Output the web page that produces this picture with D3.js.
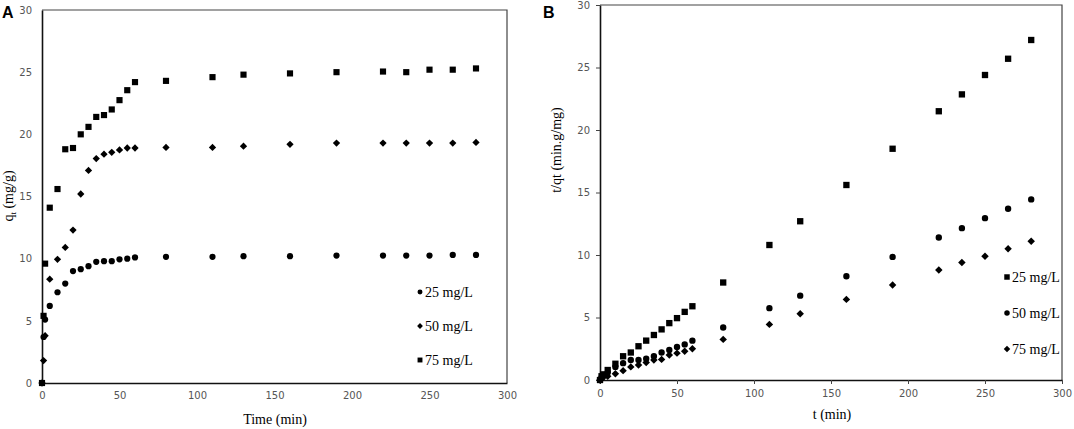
<!DOCTYPE html>
<html>
<head>
<meta charset="utf-8">
<script src="https://cdn.jsdelivr.net/npm/d3@7"></script>
<style>
  body { margin: 0; background: #fff; }
  .tick text { font-family: "DejaVu Sans", sans-serif; font-size: 10px; fill: #555; }
  .title { font-family: "Liberation Serif", serif; font-size: 14px; fill: #000; }
  .legend { font-family: "Liberation Serif", serif; font-size: 14px; fill: #000; }
  .panel { font-family: "Liberation Sans", Arial, sans-serif; font-size: 16px; font-weight: bold; }
</style>
</head>
<body>
<script>
var width = 1074, height = 429;

// sampling times (min)
var times = [0, 1, 2, 5, 10, 15, 20, 25, 30, 35, 40, 45, 50, 55, 60, 80, 110, 130, 160, 190, 220, 235, 250, 265, 280];

// panel A: qt (mg/g)
var qt25 = [0, 3.7, 5.1, 6.2, 7.3, 8.0, 9.0, 9.15, 9.4, 9.75, 9.8, 9.8, 9.95, 10.0, 10.1, 10.15, 10.15, 10.2, 10.2, 10.25, 10.25, 10.25, 10.25, 10.3, 10.3];
var qt50 = [0, 1.8, 3.8, 8.35, 9.95, 10.9, 12.3, 15.2, 17.1, 18.05, 18.4, 18.55, 18.75, 18.9, 18.9, 18.95, 18.95, 19.05, 19.2, 19.3, 19.3, 19.3, 19.3, 19.3, 19.35];
var qt75 = [0, 5.4, 9.6, 14.1, 15.6, 18.8, 18.9, 20.0, 20.6, 21.4, 21.55, 22.0, 22.75, 23.55, 24.2, 24.3, 24.6, 24.8, 24.9, 25.0, 25.05, 25.0, 25.2, 25.2, 25.3];

// panel B: t/qt (min.g/mg)
var tq25 = [0, 0.3, 0.45, 0.8, 1.3, 1.9, 2.2, 2.7, 3.15, 3.6, 4.05, 4.55, 4.95, 5.45, 5.9, 7.8, 10.8, 12.7, 15.6, 18.5, 21.5, 22.85, 24.4, 25.7, 27.2];
var tq50 = [0, 0.2, 0.4, 0.6, 1.05, 1.35, 1.6, 1.6, 1.7, 1.9, 2.2, 2.4, 2.65, 2.85, 3.15, 4.2, 5.75, 6.75, 8.3, 9.85, 11.4, 12.15, 12.95, 13.7, 14.45];
var tq75 = [0, 0.1, 0.2, 0.3, 0.5, 0.75, 1.05, 1.2, 1.4, 1.6, 1.65, 2.0, 2.15, 2.3, 2.5, 3.25, 4.45, 5.3, 6.45, 7.6, 8.8, 9.4, 9.9, 10.5, 11.1];

var xTicks = [0, 50, 100, 150, 200, 250, 300];
var yTicks = [0, 5, 10, 15, 20, 25, 30];

var svg = d3.select("body").append("svg")
    .attr("width", width).attr("height", height);

var shapes = {
  circle: d3.symbol().type(d3.symbolCircle),
  square: d3.symbol().type(d3.symbolSquare),
  diamond: d3.symbol().type(d3.symbolSquare)
};

function marker(sel, kind, size) {
  sel.attr("d", shapes[kind].size(kind == "circle" ? size * 0.8 : (kind == "diamond" ? size * 0.7 : size))())
    .attr("fill", "#000");
  if (kind == "diamond") sel.attr("transform", function() { return d3.select(this).attr("transform") + " rotate(45)"; });
}

function drawPanel(p) {
  var x = d3.scaleLinear().domain([0, 300]).range([p.left, p.right]);
  var y = d3.scaleLinear().domain([0, 30]).range([p.bottom, p.top]);
  var g = svg.append("g");

  // frame (top and right)
  g.append("path")
    .attr("d", "M" + p.left + "," + p.top + "H" + p.right + "V" + p.bottom)
    .attr("fill", "none").attr("stroke", "#444").attr("stroke-width", 1.2);

  var ax = g.append("g").attr("transform", "translate(0," + p.bottom + ")")
    .call(d3.axisBottom(x).tickValues(xTicks).tickSize(p.tick).tickSizeOuter(0).tickPadding(p.tick ? 6 : 9));
  var ay = g.append("g").attr("transform", "translate(" + p.left + ",0)")
    .call(d3.axisLeft(y).tickValues(yTicks).tickSize(p.tick).tickSizeOuter(0).tickPadding(p.tick ? 6 : 10));
  [ax, ay].forEach(function(a) {
    a.select(".domain").attr("stroke", "#111").attr("stroke-width", 1.6);
    a.selectAll(".tick line").attr("stroke", "#444");
  });

  p.series.forEach(function(s) {
    g.append("g").selectAll("path").data(times).enter().append("path")
      .attr("transform", function(t, i) { return "translate(" + x(t) + "," + y(s.values[i]) + ")"; })
      .each(function() { marker(d3.select(this), s.kind, p.size); });
  });

  // legend
  var lg = g.append("g").selectAll("g").data(p.series).enter().append("g")
    .attr("transform", function(d, i) { return "translate(" + p.legX + "," + (p.legY + i * p.legGap) + ")"; });
  lg.append("path").attr("transform", "translate(0,0)")
    .each(function(d) { marker(d3.select(this), d.kind, p.legSize); });
  lg.append("text").attr("class", "legend").attr("x", 5).attr("y", 5).text(function(d) { return d.label; });

  g.append("text").attr("class", "title").attr("text-anchor", "middle")
    .attr("x", p.xTitle[0]).attr("y", p.xTitle[1]).text(p.xLabel);

  var yt = g.append("text").attr("class", "title").attr("text-anchor", "middle")
    .attr("font-size", "13px")
    .attr("transform", "translate(" + p.yTitle[0] + "," + p.yTitle[1] + ") rotate(-90)");
  p.yLabel(yt);

  g.append("text").attr("class", "panel").attr("x", p.tag[0]).attr("y", p.tag[1]).text(p.name);
}

drawPanel({
  name: "A", tag: [2, 18],
  left: 42, right: 507, top: 10, bottom: 383, tick: 0, size: 38,
  series: [
    { label: "25 mg/L", kind: "circle", values: qt25 },
    { label: "50 mg/L", kind: "diamond", values: qt50 },
    { label: "75 mg/L", kind: "square", values: qt75 }
  ],
  legX: 420, legY: 292, legGap: 34, legSize: 24,
  xLabel: "Time (min)", xTitle: [275, 424],
  yTitle: [13, 196],
  yLabel: function(t) {
    t.append("tspan").text("q");
    t.append("tspan").attr("font-size", "9px").attr("dy", 3).text("t");
    t.append("tspan").attr("dy", -3).text(" (mg/g)");
  }
});

drawPanel({
  name: "B", tag: [543, 18],
  left: 600, right: 1062, top: 5, bottom: 380, tick: 4, size: 40,
  series: [
    { label: "25 mg/L", kind: "square", values: tq25 },
    { label: "50 mg/L", kind: "circle", values: tq50 },
    { label: "75 mg/L", kind: "diamond", values: tq75 }
  ],
  legX: 1007, legY: 277, legGap: 36, legSize: 30,
  xLabel: "t (min)", xTitle: [832, 419],
  yTitle: [561, 150],
  yLabel: function(t) { t.text("t/qt (min.g/mg)"); }
});
</script>
</body>
</html>
